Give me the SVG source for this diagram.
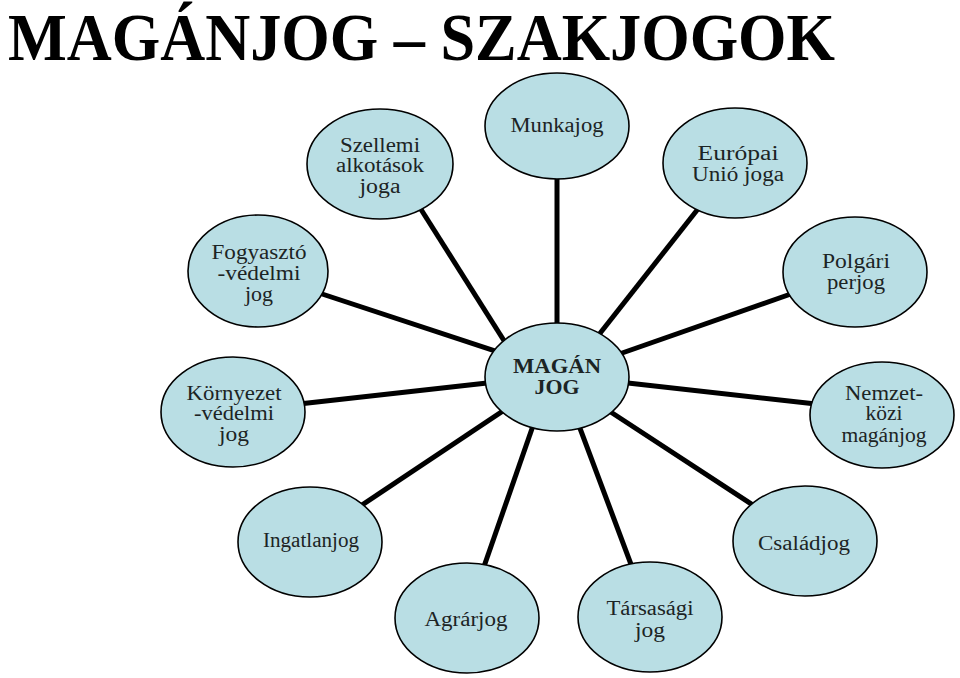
<svg xmlns="http://www.w3.org/2000/svg" width="960" height="678" viewBox="0 0 960 678">
<style>
.n ellipse{fill:#b9dee4;stroke:#000;stroke-width:1.6}
.n text{font-family:"Liberation Serif","Times New Roman",serif;font-size:20px;fill:#1c2424;text-anchor:middle}
.c line{stroke:#000;stroke-width:5}
.t{font-family:"Liberation Serif","Times New Roman",serif;font-weight:bold;font-size:67px;fill:#000}
.b{font-weight:bold;font-size:22px}
</style>
<rect width="960" height="678" fill="#fff"/>
<text class="t" x="8" y="60" textLength="827" lengthAdjust="spacingAndGlyphs">MAGÁNJOG – SZAKJOGOK</text>
<g class="c" id="connectors">
<line x1="410" y1="192" x2="515" y2="358"/>
<line x1="557" y1="170" x2="557" y2="330"/>
<line x1="705" y1="200" x2="590" y2="346"/>
<line x1="310" y1="290" x2="510" y2="356"/>
<line x1="805" y1="289" x2="605" y2="359"/>
<line x1="290" y1="405" x2="505" y2="381"/>
<line x1="825" y1="405" x2="610" y2="381"/>
<line x1="350" y1="513" x2="515" y2="403"/>
<line x1="765" y1="513" x2="600" y2="405"/>
<line x1="480" y1="578" x2="535" y2="420"/>
<line x1="635" y1="575" x2="575" y2="415"/>
</g>
<g class="n" id="szellemi"><ellipse cx="380" cy="164" rx="73" ry="55"/><text x="380" y="152" textLength="80" lengthAdjust="spacingAndGlyphs">Szellemi</text><text x="380" y="172" textLength="88" lengthAdjust="spacingAndGlyphs">alkotások</text><text x="380" y="193" textLength="41" lengthAdjust="spacingAndGlyphs">joga</text></g>
<g class="n" id="munkajog"><ellipse cx="557" cy="126" rx="72" ry="53"/><text x="557" y="132" textLength="93" lengthAdjust="spacingAndGlyphs">Munkajog</text></g>
<g class="n" id="europai"><ellipse cx="735" cy="163" rx="72" ry="55"/><text x="738" y="160" textLength="81" lengthAdjust="spacingAndGlyphs">Európai</text><text x="738" y="181" textLength="92" lengthAdjust="spacingAndGlyphs">Unió joga</text></g>
<g class="n" id="fogyaszto"><ellipse cx="258" cy="271" rx="70" ry="56"/><text x="259" y="259" textLength="95" lengthAdjust="spacingAndGlyphs">Fogyasztó</text><text x="259" y="280" textLength="83" lengthAdjust="spacingAndGlyphs">-védelmi</text><text x="259" y="301" textLength="28" lengthAdjust="spacingAndGlyphs">jog</text></g>
<g class="n" id="polgari"><ellipse cx="855" cy="272" rx="72" ry="55"/><text x="856" y="268" textLength="68" lengthAdjust="spacingAndGlyphs">Polgári</text><text x="856" y="289" textLength="58" lengthAdjust="spacingAndGlyphs">perjog</text></g>
<g class="n" id="kornyezet"><ellipse cx="233" cy="412" rx="72" ry="55"/><text x="234" y="400" textLength="95" lengthAdjust="spacingAndGlyphs">Környezet</text><text x="234" y="420" textLength="80" lengthAdjust="spacingAndGlyphs">-védelmi</text><text x="234" y="441" textLength="30" lengthAdjust="spacingAndGlyphs">jog</text></g>
<g class="n" id="nemzetkozi"><ellipse cx="882" cy="415" rx="72" ry="53"/><text x="884" y="400" textLength="78" lengthAdjust="spacingAndGlyphs">Nemzet-</text><text x="884" y="420" textLength="37" lengthAdjust="spacingAndGlyphs">közi</text><text x="884" y="442" textLength="85" lengthAdjust="spacingAndGlyphs">magánjog</text></g>
<g class="n" id="ingatlanjog"><ellipse cx="310" cy="542" rx="72" ry="55"/><text x="311" y="547" textLength="96" lengthAdjust="spacingAndGlyphs">Ingatlanjog</text></g>
<g class="n" id="csaladjog"><ellipse cx="805" cy="541" rx="72" ry="55"/><text x="804" y="550" textLength="92" lengthAdjust="spacingAndGlyphs">Családjog</text></g>
<g class="n" id="agrarjog"><ellipse cx="467" cy="618" rx="72" ry="55"/><text x="466" y="626" textLength="83" lengthAdjust="spacingAndGlyphs">Agrárjog</text></g>
<g class="n" id="tarsasagi"><ellipse cx="650" cy="617" rx="72" ry="55"/><text x="650" y="615" textLength="87" lengthAdjust="spacingAndGlyphs">Társasági</text><text x="650" y="637" textLength="30" lengthAdjust="spacingAndGlyphs">jog</text></g>
<g class="n" id="magan"><ellipse cx="557" cy="377" rx="72" ry="54"/><text class="b" x="557" y="373" textLength="88" lengthAdjust="spacingAndGlyphs">MAGÁN</text><text class="b" x="557" y="394" textLength="45" lengthAdjust="spacingAndGlyphs">JOG</text></g>
</svg>
